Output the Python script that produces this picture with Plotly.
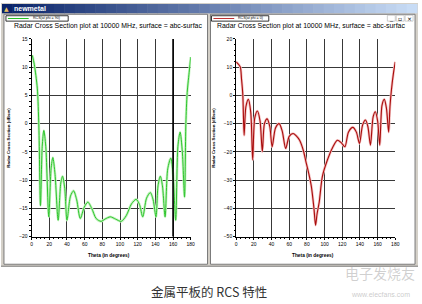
import plotly.graph_objects as go

W, H = 422, 304

# ---- data ----
green_theta = [0.8, 3, 6.4, 8.2, 10, 12, 13.8, 16, 19.4, 22, 24, 26.5, 30, 33, 35, 37.5, 40, 44, 47.5, 51,
               55, 59.5, 63.6, 68, 73, 78.6, 83, 89, 95, 101.4, 107, 113, 118.2, 122, 125.7, 130, 134.3,
               137.5, 140.7, 143, 145.6, 148, 151, 154, 157.5, 160, 163, 165.5, 168, 170.5, 173, 174.5,
               176, 178.5, 180]
green_db = [12.1, 10.5, 6.3, -0.6, -14.5, -4, -1.2, -4, -16.5, -8, -6, -9, -17.1, -10.5, -9.3, -11.5, -17.1,
            -12.8, -11.9, -13.5, -16.8, -14.8, -13.9, -15, -16.8, -17.3, -16.9, -16.5, -16.9, -17.3, -16.3,
            -14.2, -13.4, -14.3, -16.5, -13.2, -12.2, -13.5, -16.5, -11, -9.3, -11, -16.5, -8, -6.1, -9,
            -17.1, -4, -1.5, -5, -13, 0, 5.5, 9.5, 11.8]

red_theta = [0, 4.5, 6, 7.5, 9, 11, 13.8, 16.5, 18.7, 21, 24, 27, 29.6, 32, 35, 38, 40.7, 44.5, 48.6, 52,
             56, 60, 64.3, 68, 71.8, 76, 79.3, 82, 85, 88, 89.8, 91.5, 93.9, 97.6, 103.3, 109, 114.5, 119,
             123, 127, 132, 136, 139.5, 143, 146.3, 149, 151.9, 155, 157.5, 160, 162.4, 165, 167.6, 170,
             172.5, 174, 175.5, 178, 180]
red_db = [11.9, 10.2, 6, 0.3, -14.1, -4, -1.4, -6, -22.8, -8, -5.5, -9, -19.9, -10, -8.3, -11, -18.2, -11.5,
          -10, -12.5, -18.8, -14.5, -13.5, -14.3, -15.9, -19.5, -24, -27.5, -32.1, -40, -46, -42, -37.9,
          -28.6, -22.8, -18.5, -15.9, -16.8, -18.2, -13, -11.3, -13, -17, -10.5, -8.7, -11, -17.6, -7.5,
          -5.8, -9, -17.6, -3.5, -1.4, -4.5, -13, -4, 1.5, 8, 11.9]

x_ticks = [0, 20, 40, 60, 80, 100, 120, 140, 160, 180]
left_y_ticks = [-20, -15, -10, -5, 0, 5, 10, 15]
right_y_ticks = [-50, -40, -30, -20, -10, 0, 10, 20]
cursor_theta = 160

title_text = "Radar Cross Section plot at 10000 MHz, surface = abc-surfac"
left_legend = "RCS(at phi = 90)"
right_legend = "RCS(at phi = 0)"
y_title = "Radar Cross Section (dBsm)"
x_title = "Theta (in degrees)"
caption = "金属平板的 RCS 特性"


def px(x):
    return x / W


def py(y):
    return 1 - y / H


fig = go.Figure()

fig.add_trace(go.Scatter(x=green_theta, y=green_db, mode="lines", xaxis="x", yaxis="y",
                         line=dict(color="#c4f2bf", width=2.6, shape="spline", smoothing=0.8),
                         hoverinfo="skip", showlegend=False))
fig.add_trace(go.Scatter(x=green_theta, y=green_db, mode="lines", xaxis="x", yaxis="y",
                         line=dict(color="#2cc42c", width=1.0, shape="spline", smoothing=0.8),
                         showlegend=False))
fig.add_trace(go.Scatter(x=red_theta, y=red_db, mode="lines", xaxis="x2", yaxis="y2",
                         line=dict(color="#f4c0c0", width=2.6, shape="spline", smoothing=0.8),
                         hoverinfo="skip", showlegend=False))
fig.add_trace(go.Scatter(x=red_theta, y=red_db, mode="lines", xaxis="x2", yaxis="y2",
                         line=dict(color="#a80c0c", width=1.1, shape="spline", smoothing=0.8),
                         showlegend=False))

tickfont = dict(family="Liberation Sans, Arial", size=5, color="#000")
ax_common = dict(showgrid=True, gridcolor="#383838", gridwidth=1, zeroline=False,
                 showline=True, linecolor="#000", linewidth=1, ticks="outside", ticklen=2,
                 tickcolor="#000", tickfont=tickfont, fixedrange=True,
                 minor=dict(ticks="outside", ticklen=1.2, tickcolor="#000", showgrid=False))

yd = [py(238.3), py(36.7)]
fig.update_layout(
    width=W, height=H, autosize=False,
    margin=dict(l=0, r=0, t=0, b=0),
    paper_bgcolor="white", plot_bgcolor="white",
    xaxis=dict(domain=[px(31), px(192)], range=[0, 180], tickvals=x_ticks, anchor="y",
               **{**ax_common, "minor": dict(ax_common["minor"], dtick=5)}),
    yaxis=dict(domain=yd, range=[-20, 15], tickvals=left_y_ticks, anchor="x",
               **{**ax_common, "minor": dict(ax_common["minor"], dtick=1)}),
    xaxis2=dict(domain=[px(238), px(399)], range=[0, 180], tickvals=x_ticks, anchor="y2",
                **{**ax_common, "minor": dict(ax_common["minor"], dtick=5)}),
    yaxis2=dict(domain=yd, range=[-50, 20], tickvals=right_y_ticks, anchor="x2",
                **{**ax_common, "minor": dict(ax_common["minor"], dtick=2)}),
)

shapes = []
# window background
shapes.append(dict(type="rect", xref="paper", yref="paper", x0=0, x1=1, y0=py(269), y1=py(0),
                   fillcolor="#d4d0c8", line=dict(width=0), layer="below"))
shapes.append(dict(type="line", xref="paper", yref="paper", x0=0, x1=1, y0=py(268.5), y1=py(268.5),
                   line=dict(color="#808080", width=1), layer="below"))
# title bar gradient strips
n = 40
c0 = (10, 36, 106)
c1 = (200, 220, 245)
for i in range(n):
    t = i / (n - 1)
    col = "rgb(%d,%d,%d)" % tuple(int(c0[k] + (c1[k] - c0[k]) * t) for k in range(3))
    x0 = 1 + (420 / n) * i
    shapes.append(dict(type="rect", xref="paper", yref="paper", x0=px(x0), x1=px(x0 + 420 / n + 0.5),
                       y0=py(10.5), y1=py(1), fillcolor=col, line=dict(width=0), layer="below"))
# panels
for (a, b) in [(3, 209), (212, 419)]:
    shapes.append(dict(type="rect", xref="paper", yref="paper", x0=px(a), x1=px(b), y0=py(266.5), y1=py(11.5),
                       fillcolor="white", line=dict(color="#7a7a7a", width=1), layer="below"))
# legend boxes
for (a, b, c, col) in [(5, 68, 28, "#22c022"), (213, 271, 236, "#c03030")]:
    shapes.append(dict(type="rect", xref="paper", yref="paper", x0=px(a), x1=px(b), y0=py(18.5), y1=py(13),
                       fillcolor="white", line=dict(color="#000", width=0.8), layer="below"))
    shapes.append(dict(type="line", xref="paper", yref="paper", x0=px(a + 2), x1=px(c), y0=py(15.8), y1=py(15.8),
                       line=dict(color=col, width=1), layer="below"))
# window buttons
for (a, b) in [(391, 399), (400, 408), (409, 417)]:
    shapes.append(dict(type="rect", xref="paper", yref="paper", x0=px(a), x1=px(b), y0=py(18.5), y1=py(12.5),
                       fillcolor="#ffffff", line=dict(color="#b0b0b0", width=0.6), layer="below"))
# cursor line on left plot
shapes.append(dict(type="line", xref="x", yref="y domain", x0=cursor_theta, x1=cursor_theta, y0=0, y1=1,
                   line=dict(color="#000", width=1.6), layer="above"))
fig.update_layout(shapes=shapes)

ann = []
ann.append(dict(x=px(11), y=py(5.8), xref="paper", yref="paper", text="<b>newmetal</b>", showarrow=False,
                xanchor="left", yanchor="middle", font=dict(family="Liberation Sans", size=7, color="white")))
ann.append(dict(x=px(5.5), y=py(5.8), xref="paper", yref="paper", text="▲", showarrow=False,
                xanchor="center", yanchor="middle", font=dict(family="DejaVu Sans", size=6, color="#e8c060")))
for xb, s in [(395, "_"), (404, "▫"), (413, "×")]:
    ann.append(dict(x=px(xb), y=py(15.5), xref="paper", yref="paper", text=s, showarrow=False,
                    xanchor="center", yanchor="middle", font=dict(family="DejaVu Sans", size=6, color="#000")))
for xs in [11.5, 216.5]:
    ann.append(dict(x=px(xs), y=py(23.5), xref="paper", yref="paper", text=title_text, showarrow=False,
                    xanchor="left", yanchor="middle",
                    font=dict(family="Liberation Sans", size=6.9, color="#000")))
ann.append(dict(x=px(30), y=py(15.6), xref="paper", yref="paper", text=left_legend, showarrow=False,
                xanchor="left", yanchor="middle", font=dict(family="Liberation Sans", size=3.6, color="#000")))
ann.append(dict(x=px(238), y=py(15.6), xref="paper", yref="paper", text=right_legend, showarrow=False,
                xanchor="left", yanchor="middle", font=dict(family="Liberation Sans", size=3.6, color="#000")))
for xs in [7.5, 215]:
    ann.append(dict(x=px(xs), y=py(137), xref="paper", yref="paper", text="<b>" + y_title + "</b>",
                    showarrow=False, textangle=-90, xanchor="center", yanchor="middle",
                    font=dict(family="Liberation Sans", size=4.4, color="#000")))
for xs in [109, 316]:
    ann.append(dict(x=px(xs), y=py(258), xref="paper", yref="paper", text="<b>" + x_title + "</b>",
                    showarrow=False, xanchor="center", yanchor="middle",
                    font=dict(family="Liberation Sans", size=4.8, color="#000")))
ann.append(dict(x=px(210), y=py(294), xref="paper", yref="paper", text=caption, showarrow=False,
                xanchor="center", yanchor="middle",
                font=dict(family="Noto Sans CJK SC", size=12.5, color="#333")))
# watermark
ann.append(dict(x=px(384), y=py(275), xref="paper", yref="paper", text="电子发烧友", showarrow=False,
                xanchor="center", yanchor="middle",
                font=dict(family="Noto Sans CJK SC", size=14, color="rgba(120,120,120,0.35)")))
ann.append(dict(x=px(384), y=py(297), xref="paper", yref="paper", text="www.elecfans.com", showarrow=False,
                xanchor="center", yanchor="middle",
                font=dict(family="Liberation Sans", size=7, color="rgba(150,150,150,0.5)")))
fig.update_layout(annotations=ann)

fig.write_html("out.html")
